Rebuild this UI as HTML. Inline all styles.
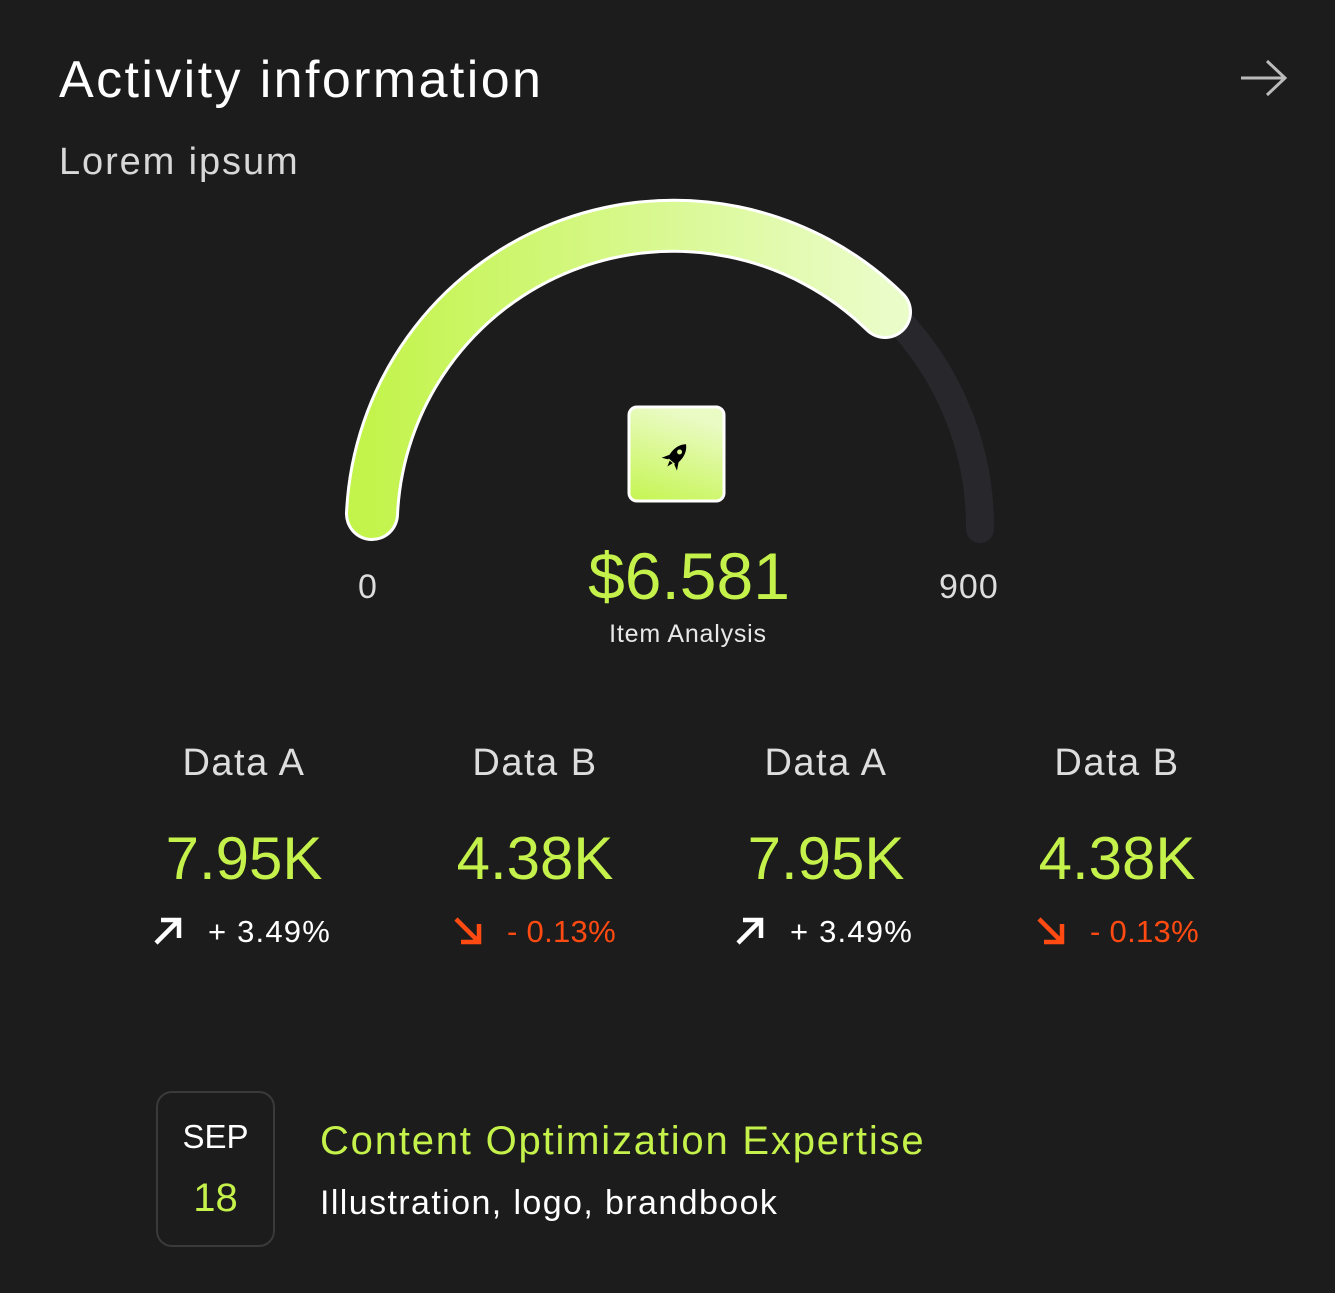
<!DOCTYPE html>
<html><head><meta charset="utf-8"><style>
body{margin:0;background:#1c1c1c;width:1335px;height:1293px;overflow:hidden;font-family:"Liberation Sans",sans-serif;color:#fff;position:relative}
.a{position:absolute;white-space:nowrap}
.c{text-align:center;width:300px}
</style></head><body>
<div class="a" style="left:59px;top:50px;font-size:52px;letter-spacing:2.4px">Activity information</div>
<div class="a" style="left:59px;top:141px;font-size:38px;color:#d8d8d8;letter-spacing:1.9px">Lorem ipsum</div>
<svg class="a" style="left:1238px;top:58px" width="52" height="40"><path d="M3 20H47M29 3L47 20L29 37" stroke="#bbb" stroke-width="3" fill="none"/></svg>
<svg class="a" style="left:0;top:0" width="1335" height="700">
<defs>
<linearGradient id="g" x1="0" x2="1"><stop offset="0" stop-color="#c3f44c"/><stop offset="1" stop-color="#eafcc8"/></linearGradient>
<linearGradient id="b" x1="0" y1="1" x2="0.3" y2="0"><stop offset="0" stop-color="#c5f550"/><stop offset="1" stop-color="#eafbc4"/></linearGradient>
</defs>
<path d="M889 311 A302 302 0 0 1 980 529" stroke="#27272c" stroke-width="28" fill="none" stroke-linecap="round"/>
<path d="M372 514 A302 302 0 0 1 885 312" stroke="#fff" stroke-width="54" fill="none" stroke-linecap="round"/>
<path d="M372 514 A302 302 0 0 1 885 312" stroke="url(#g)" stroke-width="48" fill="none" stroke-linecap="round"/>
<rect x="629" y="407" width="95" height="94" rx="8" fill="url(#b)" stroke="#fff" stroke-width="3"/>
<g transform="translate(677,455) rotate(40)"><path d="M0 -14 C7 -8 7 2 5 8 L-5 8 C-7 2 -7 -8 0 -14Z" fill="#000"/><circle cx="0" cy="-4" r="2.5" fill="#d8f590"/><path d="M-5 3 L-10 12 L-4 9Z M5 3 L10 12 L4 9Z M-2 9 L0 15 L2 9Z" fill="#000"/></g>
</svg>
<div class="a" style="left:358px;top:568px;font-size:34px;color:#ddd">0</div>
<div class="a" style="left:939px;top:568px;font-size:34px;color:#ddd;letter-spacing:1px">900</div>
<div class="a c" style="left:539px;top:538px;font-size:66px;color:#c4f14a">$6.581</div>
<div class="a c" style="left:538px;top:620px;font-size:25px;color:#e8e8e8;letter-spacing:0.8px">Item Analysis</div>

<div class="a c" style="left:94px;top:742px;font-size:38px;color:#ddd;letter-spacing:1.5px">Data A</div>
<div class="a c" style="left:385px;top:742px;font-size:38px;color:#ddd;letter-spacing:1.5px">Data B</div>
<div class="a c" style="left:676px;top:742px;font-size:38px;color:#ddd;letter-spacing:1.5px">Data A</div>
<div class="a c" style="left:967px;top:742px;font-size:38px;color:#ddd;letter-spacing:1.5px">Data B</div>
<div class="a c" style="left:94px;top:824px;font-size:60px;color:#c4f14a">7.95K</div>
<div class="a c" style="left:385px;top:824px;font-size:60px;color:#c4f14a">4.38K</div>
<div class="a c" style="left:676px;top:824px;font-size:60px;color:#c4f14a">7.95K</div>
<div class="a c" style="left:967px;top:824px;font-size:60px;color:#c4f14a">4.38K</div>

<svg class="a" style="left:152px;top:915px" width="32" height="32"><path d="M4 28L27 5M9 5H27V23" stroke="#fff" stroke-width="4.5" fill="none"/></svg>
<div class="a" style="left:208px;top:914px;font-size:31px;letter-spacing:1.2px">+ 3.49%</div>
<svg class="a" style="left:452px;top:915px" width="32" height="32"><path d="M4 4L27 27M27 9V27H9" stroke="#ff4a12" stroke-width="4.5" fill="none"/></svg>
<div class="a" style="left:507px;top:914px;font-size:31px;color:#ff4a12;letter-spacing:0.3px">- 0.13%</div>
<svg class="a" style="left:734px;top:915px" width="32" height="32"><path d="M4 28L27 5M9 5H27V23" stroke="#fff" stroke-width="4.5" fill="none"/></svg>
<div class="a" style="left:790px;top:914px;font-size:31px;letter-spacing:1.2px">+ 3.49%</div>
<svg class="a" style="left:1035px;top:915px" width="32" height="32"><path d="M4 4L27 27M27 9V27H9" stroke="#ff4a12" stroke-width="4.5" fill="none"/></svg>
<div class="a" style="left:1090px;top:914px;font-size:31px;color:#ff4a12;letter-spacing:0.3px">- 0.13%</div>

<div class="a" style="left:156px;top:1091px;width:115px;height:152px;border:2px solid #3a3a3a;border-radius:16px"></div>
<div class="a" style="left:158px;top:1118px;width:115px;text-align:center;font-size:33px">SEP</div>
<div class="a" style="left:158px;top:1176px;width:115px;text-align:center;font-size:40px;color:#c4f14a">18</div>
<div class="a" style="left:320px;top:1119px;font-size:40px;color:#c4f14a;letter-spacing:1.8px">Content Optimization Expertise</div>
<div class="a" style="left:320px;top:1184px;font-size:34px;letter-spacing:1.4px">Illustration, logo, brandbook</div>
</body></html>
